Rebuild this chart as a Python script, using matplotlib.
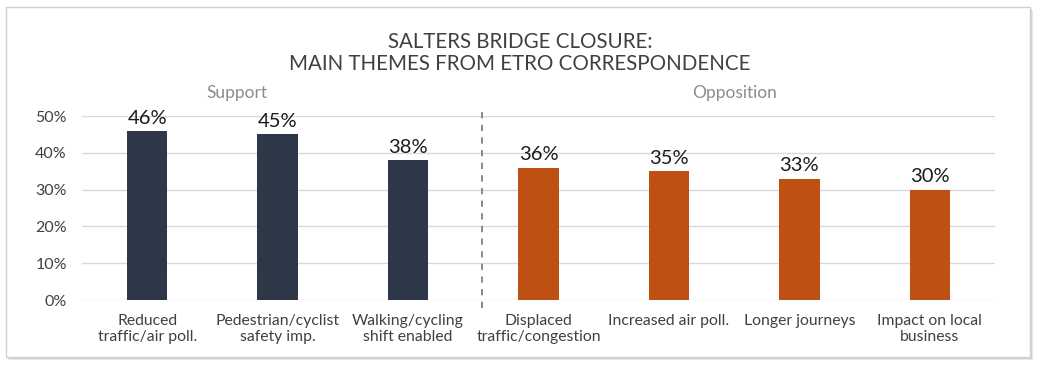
import matplotlib
matplotlib.use("Agg")
import matplotlib.pyplot as plt
from matplotlib.patches import Rectangle
from matplotlib.ticker import FuncFormatter

# ---- data ----
categories = ["Reduced\ntraffic/air poll.", "Pedestrian/cyclist\nsafety imp.",
              "Walking/cycling\nshift enabled", "Displaced\ntraffic/congestion",
              "Increased air poll.", "Longer journeys", "Impact on local\nbusiness"]
support_values = [46, 45, 38]
opposition_values = [36, 35, 33, 30]
group_labels = ["Support", "Opposition"]
y_ticks = [0, 10, 20, 30, 40, 50]
title_text = "SALTERS BRIDGE CLOSURE:\nMAIN THEMES FROM ETRO CORRESPONDENCE"

NAVY = "#2E3747"
ORANGE = "#BE5014"
TEXT = "#404040"
GRID = "#D9D9D9"
FONT = ["Lato", "DejaVu Sans"]
plt.rcParams["font.family"] = FONT

W, H = 1040, 366
fig = plt.figure(figsize=(W / 100, H / 100), dpi=100)
fig.patch.set_facecolor("white")

# outer frame with soft shadow
for i, c in enumerate(["#E6E6E6", "#D4D4D4", "#C4C4C4"]):
    off = 3 - i
    fig.patches.append(Rectangle(((6 + off) / W, 1 - (357 + off) / H), 1024 / W, 350 / H,
                                 transform=fig.transFigure, facecolor=c,
                                 edgecolor="none", zorder=-3 + i * 0.1))
fig.patches.append(Rectangle((6 / W, 1 - 357 / H), 1024 / W, 350 / H,
                             transform=fig.transFigure, facecolor="white",
                             edgecolor="#D0D0D0", linewidth=1, zorder=-1))

ax = fig.add_axes([82 / W, 1 - 300 / H, 913 / W, (300 - 116) / H])
ax.set_facecolor("none")
ax.set_zorder(5)

values = support_values + opposition_values
colors = [NAVY] * len(support_values) + [ORANGE] * len(opposition_values)
x = list(range(len(categories)))
bars = ax.bar(x, values, width=0.31, color=colors, zorder=3)

for xi, v in zip(x, values):
    ax.annotate(f"{v}%", (xi, v), xytext=(0, 3), textcoords="offset points",
                ha="center", va="bottom", fontsize=14.5, color="#1A1A1A")

ax.set_xlim(-0.5, len(categories) - 0.5)
ax.set_ylim(0, 50)
ax.set_yticks(y_ticks)
ax.yaxis.set_major_formatter(FuncFormatter(lambda v, p: f"{int(v)}%"))
ax.grid(axis="y", color=GRID, linewidth=1, zorder=0)
ax.set_axisbelow(True)
for s in ax.spines.values():
    s.set_visible(False)
ax.tick_params(axis="both", length=0, colors=TEXT)
ax.tick_params(axis="y", labelsize=11.5, pad=11)
ax.set_xticks(x)
ax.set_xticklabels(categories, fontsize=11.3, color=TEXT, linespacing=1.15)
ax.tick_params(axis="x", pad=10)

# separator
sep_x = len(support_values) - 0.5 + 0.07
ax.vlines(sep_x, -2.3, 52.5, colors="#808080", linestyles=(0, (3.5, 3.5)),
          linewidth=1.3, clip_on=False)

# group labels
ax.text(0.69, 56.3, group_labels[0], ha="center", va="center", fontsize=12.5,
        color="#8C8C8C")
ax.text(len(support_values) + (len(opposition_values) - 1) / 2, 56.3,
        group_labels[1], ha="center", va="center", fontsize=12.5, color="#8C8C8C")

fig.text(520 / W, 1 - 53 / H, title_text, ha="center", va="center",
         fontsize=14.8, color=TEXT, linespacing=1.15)

fig.savefig("out.png", dpi=100)
